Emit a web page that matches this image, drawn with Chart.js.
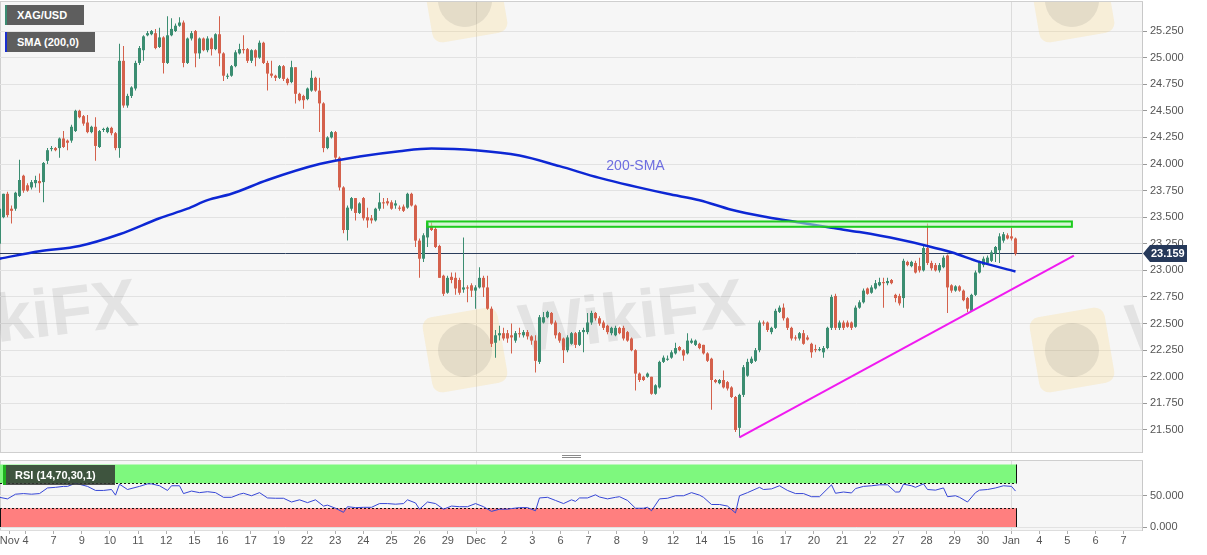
<!DOCTYPE html>
<html>
<head>
<meta charset="utf-8">
<title>XAG/USD</title>
<script src="https://cdn.jsdelivr.net/npm/chart.js@4.4.1/dist/chart.umd.min.js"></script>
<style>
  html, body { margin: 0; padding: 0; background: #fff; }
  #wrap { position: relative; width: 1207px; height: 555px; overflow: hidden; font-family: "Liberation Sans", Arial, sans-serif; }
  canvas { position: absolute; left: 0; }
  #priceChart { top: 0; }
  #rsiChart { top: 456px; }
  .tag { position: absolute; height: 20px; line-height: 20px; color: #fff; font-size: 11px; font-weight: bold; box-sizing: border-box; white-space: nowrap; }
  #tagPair { left: 5px; top: 5px; width: 79px; padding-left: 10px; background: #5e5e5e; border-left: 2px solid #3b8c72; }
  #tagSma { left: 5px; top: 32px; width: 90px; padding-left: 10px; background: #5e5e5e; border-left: 2px solid #1a2fd0; }
  #tagRsi { left: 3px; top: 465px; width: 112px; padding-left: 9px; background: rgba(50,55,50,0.85); border-left: 3px solid #1fb41f; }
  .grip { position: absolute; left: 562px; width: 19px; height: 1px; background: #8a8a8a; }
</style>
</head>
<body>
<div id="wrap">
  <canvas id="priceChart" width="1207" height="456"></canvas>
  <canvas id="rsiChart" width="1207" height="99"></canvas>
  <div class="grip" style="top:455px"></div>
  <div class="grip" style="top:457px"></div>
  <div class="tag" id="tagPair">XAG/USD</div>
  <div class="tag" id="tagSma">SMA (200,0)</div>
  <div class="tag" id="tagRsi">RSI (14,70,30,1)</div>
</div>
<script>
// 4h candles, Nov 4 -> Jan 3
const opens = [
  23.25, 23.50, 23.72, 23.58, 23.58, 23.70, 23.89, 23.80, 23.78, 23.82,
  23.84, 23.83, 24.03, 24.14, 24.15, 24.15, 24.24, 24.22, 24.22, 24.31,
  24.50, 24.45, 24.39, 24.30, 24.35, 24.16, 24.32, 24.30, 24.34, 24.29,
  24.15, 24.97, 24.55, 24.64, 24.71, 24.95, 25.07, 25.21, 25.22, 25.23,
  25.10, 25.19, 24.95, 25.21, 25.25, 25.30, 25.33, 24.95, 25.18, 25.25,
  25.04, 25.18, 25.07, 25.18, 25.08, 25.22, 25.04, 24.82, 24.83, 24.92,
  25.04, 25.08, 25.08, 24.97, 25.07, 25.00, 25.14, 24.95, 24.85, 24.83,
  24.81, 24.92, 24.80, 24.77, 24.91, 24.66, 24.64, 24.61, 24.69, 24.81,
  24.69, 24.57, 24.15, 24.25, 24.30, 24.06, 23.78, 23.38, 23.58, 23.68,
  23.54, 23.68, 23.50, 23.49, 23.47, 23.58, 23.64, 23.65, 23.64, 23.61,
  23.59, 23.60, 23.59, 23.72, 23.61, 23.28, 23.11, 23.31, 23.42, 23.39,
  23.23, 22.95, 22.79, 22.94, 22.93, 22.91, 22.82, 22.84, 22.86, 22.81,
  22.84, 22.93, 22.84, 22.64, 22.32, 22.39, 22.41, 22.41, 22.39, 22.34,
  22.41, 22.39, 22.42, 22.38, 22.34, 22.14, 22.51, 22.56, 22.60, 22.51,
  22.41, 22.36, 22.25, 22.31, 22.41, 22.30, 22.42, 22.42, 22.51, 22.60,
  22.55, 22.51, 22.48, 22.41, 22.39, 22.46, 22.46, 22.42, 22.36, 22.25,
  22.03, 22.00, 22.00, 22.00, 21.84, 21.90, 22.14, 22.16, 22.18, 22.22,
  22.28, 22.25, 22.22, 22.32, 22.30, 22.31, 22.30, 22.22, 22.17, 21.97,
  21.94, 21.97, 21.95, 21.90, 21.81, 21.52, 21.83, 22.01, 22.13, 22.15,
  22.25, 22.51, 22.51, 22.42, 22.46, 22.61, 22.65, 22.55, 22.46, 22.37,
  22.36, 22.41, 22.37, 22.31, 22.26, 22.25, 22.23, 22.27, 22.46, 22.76,
  22.46, 22.51, 22.51, 22.51, 22.47, 22.65, 22.70, 22.83, 22.79, 22.83,
  22.86, 22.89, 22.88, 22.91, 22.77, 22.76, 22.74, 23.08, 23.04, 23.07,
  23.04, 23.00, 23.21, 23.07, 23.05, 23.00, 23.03, 23.14, 22.86, 22.81,
  22.85, 22.81, 22.74, 22.62, 22.77, 22.98, 23.05, 23.07, 23.09, 23.16,
  23.19, 23.28, 23.33, 23.32, 23.30
];
const highs = [
  23.61, 23.72, 23.74, 23.61, 23.74, 24.04, 23.90, 23.82, 23.85, 23.89,
  23.91, 24.02, 24.15, 24.17, 24.16, 24.25, 24.31, 24.23, 24.37, 24.51,
  24.51, 24.46, 24.46, 24.36, 24.44, 24.32, 24.34, 24.35, 24.35, 24.30,
  25.13, 25.11, 24.66, 24.73, 24.97, 25.11, 25.21, 25.25, 25.26, 25.27,
  25.28, 25.20, 25.39, 25.37, 25.32, 25.38, 25.35, 25.19, 25.25, 25.26,
  25.19, 25.19, 25.20, 25.19, 25.23, 25.39, 25.05, 24.85, 24.93, 25.07,
  25.13, 25.21, 25.09, 25.08, 25.08, 25.16, 25.15, 24.97, 24.97, 24.84,
  24.93, 24.93, 24.81, 24.97, 24.91, 24.67, 24.65, 24.72, 24.88, 24.82,
  24.81, 24.58, 24.26, 24.31, 24.31, 24.07, 23.79, 23.61, 23.69, 23.68,
  23.64, 23.69, 23.59, 23.52, 23.59, 23.73, 23.68, 23.68, 23.66, 23.66,
  23.61, 23.62, 23.73, 23.73, 23.62, 23.30, 23.35, 23.46, 23.45, 23.41,
  23.24, 22.96, 22.95, 22.98, 22.98, 22.93, 23.31, 22.86, 22.88, 22.86,
  23.03, 22.95, 22.95, 22.66, 22.44, 22.48, 22.46, 22.44, 22.50, 22.43,
  22.46, 22.44, 22.44, 22.39, 22.39, 22.58, 22.61, 22.62, 22.61, 22.53,
  22.42, 22.37, 22.39, 22.42, 22.42, 22.44, 22.46, 22.60, 22.62, 22.61,
  22.57, 22.53, 22.49, 22.47, 22.48, 22.47, 22.48, 22.43, 22.37, 22.26,
  22.04, 22.01, 22.04, 22.00, 21.93, 22.15, 22.20, 22.20, 22.25, 22.32,
  22.29, 22.26, 22.41, 22.36, 22.35, 22.32, 22.30, 22.23, 22.18, 21.98,
  21.98, 22.06, 21.96, 21.91, 21.82, 21.84, 22.11, 22.17, 22.19, 22.27,
  22.53, 22.53, 22.52, 22.47, 22.64, 22.67, 22.69, 22.56, 22.47, 22.39,
  22.42, 22.44, 22.39, 22.32, 22.30, 22.28, 22.29, 22.47, 22.77, 22.78,
  22.53, 22.53, 22.53, 22.52, 22.67, 22.72, 22.83, 22.84, 22.86, 22.91,
  22.93, 22.93, 22.93, 22.92, 22.78, 22.78, 23.11, 23.09, 23.09, 23.09,
  23.12, 23.23, 23.44, 23.09, 23.07, 23.07, 23.14, 23.15, 22.87, 22.86,
  22.86, 22.82, 22.75, 22.78, 23.00, 23.09, 23.13, 23.14, 23.19, 23.23,
  23.35, 23.36, 23.35, 23.40, 23.31
];
const lows = [
  23.23, 23.49, 23.50, 23.44, 23.56, 23.69, 23.73, 23.74, 23.76, 23.78,
  23.73, 23.64, 24.00, 24.12, 24.12, 24.06, 24.15, 24.13, 24.20, 24.30,
  24.43, 24.36, 24.29, 24.29, 24.03, 24.15, 24.30, 24.29, 24.27, 24.13,
  24.06, 24.53, 24.53, 24.62, 24.69, 24.93, 24.97, 25.20, 25.21, 25.08,
  25.09, 24.85, 24.94, 25.20, 25.24, 25.29, 24.91, 24.94, 25.16, 24.91,
  24.99, 25.06, 25.05, 25.02, 25.07, 24.92, 24.78, 24.80, 24.82, 24.91,
  25.03, 25.04, 24.95, 24.95, 24.92, 24.99, 24.94, 24.69, 24.81, 24.78,
  24.80, 24.78, 24.74, 24.76, 24.57, 24.59, 24.52, 24.60, 24.68, 24.68,
  24.30, 24.11, 24.14, 24.24, 24.03, 23.75, 23.35, 23.28, 23.56, 23.47,
  23.53, 23.47, 23.40, 23.44, 23.46, 23.56, 23.58, 23.61, 23.57, 23.58,
  23.56, 23.55, 23.58, 23.60, 23.22, 22.93, 23.08, 23.22, 23.37, 23.21,
  22.93, 22.76, 22.78, 22.88, 22.77, 22.77, 22.79, 22.70, 22.75, 22.64,
  22.83, 22.75, 22.63, 22.28, 22.18, 22.34, 22.34, 22.32, 22.22, 22.32,
  22.37, 22.37, 22.35, 22.30, 22.04, 22.12, 22.50, 22.55, 22.49, 22.36,
  22.32, 22.13, 22.23, 22.30, 22.27, 22.29, 22.23, 22.40, 22.49, 22.53,
  22.48, 22.44, 22.40, 22.39, 22.38, 22.40, 22.34, 22.33, 22.24, 21.87,
  21.95, 21.96, 21.99, 21.83, 21.83, 21.89, 22.13, 22.15, 22.17, 22.21,
  22.24, 22.15, 22.21, 22.31, 22.29, 22.26, 22.21, 22.14, 21.69, 21.94,
  21.93, 21.89, 21.87, 21.80, 21.48, 21.43, 21.81, 22.00, 22.12, 22.14,
  22.23, 22.48, 22.42, 22.40, 22.45, 22.60, 22.53, 22.44, 22.34, 22.34,
  22.34, 22.30, 22.34, 22.18, 22.23, 22.24, 22.18, 22.26, 22.44, 22.44,
  22.44, 22.44, 22.46, 22.44, 22.46, 22.64, 22.69, 22.77, 22.78, 22.82,
  22.85, 22.65, 22.86, 22.87, 22.70, 22.67, 22.65, 23.04, 23.03, 22.97,
  22.98, 22.99, 23.05, 23.00, 22.99, 22.98, 23.02, 22.60, 22.79, 22.80,
  22.80, 22.71, 22.61, 22.61, 22.76, 22.97, 23.03, 23.06, 23.08, 23.08,
  23.07, 23.26, 23.29, 23.28, 23.14
];
const closes = [
  23.58, 23.72, 23.52, 23.56, 23.73, 23.85, 23.75, 23.75, 23.83, 23.85,
  23.82, 24.01, 24.13, 24.15, 24.13, 24.24, 24.16, 24.20, 24.35, 24.50,
  24.44, 24.38, 24.30, 24.35, 24.17, 24.31, 24.33, 24.34, 24.29, 24.15,
  24.97, 24.55, 24.64, 24.72, 24.95, 25.09, 25.20, 25.23, 25.25, 25.09,
  25.19, 24.95, 25.21, 25.27, 25.30, 25.33, 24.95, 25.18, 25.23, 25.04,
  25.18, 25.07, 25.18, 25.08, 25.22, 25.04, 24.83, 24.83, 24.92, 25.05,
  25.08, 25.07, 24.97, 25.07, 25.00, 25.14, 24.95, 24.85, 24.83, 24.81,
  24.92, 24.80, 24.76, 24.91, 24.66, 24.60, 24.60, 24.71, 24.81, 24.69,
  24.57, 24.15, 24.25, 24.30, 24.06, 23.78, 23.38, 23.59, 23.68, 23.54,
  23.63, 23.49, 23.47, 23.47, 23.58, 23.64, 23.63, 23.63, 23.58, 23.63,
  23.58, 23.56, 23.72, 23.61, 23.28, 23.11, 23.33, 23.45, 23.38, 23.22,
  22.93, 22.78, 22.93, 22.91, 22.83, 22.79, 22.84, 22.83, 22.81, 22.84,
  22.93, 22.84, 22.64, 22.31, 22.39, 22.41, 22.36, 22.36, 22.37, 22.41,
  22.40, 22.42, 22.38, 22.34, 22.15, 22.56, 22.56, 22.61, 22.50, 22.39,
  22.34, 22.25, 22.37, 22.41, 22.30, 22.42, 22.44, 22.51, 22.60, 22.55,
  22.50, 22.46, 22.42, 22.46, 22.46, 22.41, 22.36, 22.34, 22.25, 22.03,
  21.97, 21.97, 22.03, 21.84, 21.92, 22.14, 22.18, 22.17, 22.23, 22.27,
  22.25, 22.20, 22.34, 22.34, 22.34, 22.27, 22.22, 22.15, 21.97, 21.95,
  21.97, 21.90, 21.89, 21.81, 21.50, 21.83, 22.09, 22.14, 22.17, 22.25,
  22.51, 22.50, 22.44, 22.46, 22.62, 22.65, 22.55, 22.46, 22.36, 22.36,
  22.41, 22.31, 22.35, 22.23, 22.25, 22.26, 22.27, 22.46, 22.75, 22.46,
  22.51, 22.46, 22.47, 22.46, 22.65, 22.70, 22.81, 22.78, 22.84, 22.88,
  22.89, 22.88, 22.90, 22.88, 22.74, 22.69, 23.09, 23.05, 23.08, 22.98,
  23.00, 23.21, 23.07, 23.02, 23.00, 23.05, 23.12, 22.84, 22.81, 22.85,
  22.81, 22.72, 22.64, 22.77, 22.98, 23.08, 23.11, 23.12, 23.17, 23.22,
  23.32, 23.34, 23.30, 23.30, 23.159
];
const LAST_PRICE = 23.159;

// 200-SMA, read at a few candles
const smaIdx = [0, 10, 20, 30, 40, 47, 52, 58, 67, 80, 90, 100, 108, 119, 130, 140, 150, 167, 175, 183, 192, 200, 208, 215, 225, 232, 238, 245, 254];
const smaVal = [23.11, 23.18, 23.23, 23.34, 23.49, 23.58, 23.66, 23.72, 23.85, 24.00, 24.07, 24.12, 24.145, 24.13, 24.08, 23.98, 23.87, 23.72, 23.66, 23.57, 23.50, 23.45, 23.40, 23.36, 23.29, 23.23, 23.17, 23.08, 22.99];

// RSI(14)
const rsiIdx = [
  0, 2, 4, 6, 8, 10, 12, 14, 16, 17,
  19, 22, 24, 26, 28, 29, 30, 32, 35, 37,
  38, 40, 42, 43, 45, 46, 48, 50, 52, 54,
  56, 58, 60, 61, 63, 65, 67, 69, 71, 73,
  75, 77, 79, 81, 82, 84, 86, 87, 89, 91,
  93, 95, 97, 99, 101, 102, 104, 105, 107, 109,
  111, 113, 115, 117, 119, 121, 123, 125, 127, 128,
  130, 132, 134, 135, 137, 139, 141, 143, 144, 145,
  147, 149, 150, 152, 154, 155, 157, 159, 161, 162,
  163, 165, 167, 169, 171, 173, 175, 176, 178, 180,
  182, 184, 185, 187, 190, 191, 193, 195, 197, 199,
  201, 203, 205, 208, 209, 211, 213, 214, 216, 218,
  220, 222, 224, 225, 226, 228, 229, 231, 232, 234,
  236, 237, 239, 240, 242, 244, 245, 247, 249, 251,
  253, 254
];
const rsiVal = [
  47.5, 45, 52.5, 53.5, 52.5, 53.5, 62.5, 63.5, 65, 65,
  70, 65, 58.5, 58.5, 60, 51, 68.5, 60, 65, 69,
  69, 66, 58.5, 66, 66, 53.5, 57.5, 55, 56.5, 55,
  47.5, 47.5, 52.5, 54, 50, 55, 46.5, 46, 46, 40,
  43.5, 39, 43.5, 33.5, 35, 30, 23.5, 32.5, 31, 31.5,
  31.5, 37.5, 37.5, 36.5, 37.5, 43.5, 38.5, 28.5, 40, 37.5,
  28.5, 33.5, 32.5, 32.5, 37.5, 32.5, 25, 28.5, 28.5, 29.5,
  31, 31, 26, 46.5, 47.5, 42.5, 37.5, 43.5, 41, 46.5,
  46.5, 51.5, 48, 45, 47.5, 48.5, 42.5, 30, 30, 31.5,
  26, 45, 46, 50, 50, 55, 51, 47.5, 36, 36,
  33.5, 22.5, 50, 55, 63.5, 60, 61, 66, 58.5, 53.5,
  53.5, 48.5, 48.5, 67.5, 54, 56, 54.5, 61.5, 65, 66,
  67.5, 67.5, 56, 56, 68.5, 66, 63.5, 69, 60, 59,
  62.5, 48.5, 50, 47.5, 40, 55, 59, 60, 62.5, 66,
  65, 57.5
];
const RSI_LEVELS = [30, 70];

// hand-drawn studies
const trendIdx = [185, 268.6];
const trendVal = [21.43, 23.14];
const zoneIdx = [106.9, 268.1];
const zoneVal = [23.41, 23.46];
const smaLabel = { idx: 159, val: 23.98, text: '200-SMA' };

const X_LABELS = ['Nov', '4', '7', '9', '10', '11', '12', '15', '16', '17', '19', '22', '23', '24', '25', '26', '29',
  'Dec', '2', '3', '6', '7', '8', '9', '12', '14', '15', '16', '17', '20', '21', '22', '27', '28', '29', '30',
  'Jan', '4', '5', '6', '7'];
const PRICE_TICKS = [21.5, 21.75, 22, 22.25, 22.5, 22.75, 23, 23.25, 23.5, 23.75, 24, 24.25, 24.5, 24.75, 25, 25.25];
const RSI_TICKS = [0, 50];

const GREEN = '#3b8d71';
const RED = '#d4614c';
const FONT_FAMILY = '"Liberation Sans", Arial, sans-serif';
Chart.defaults.font.family = FONT_FAMILY;

const X_MIN = 0.125;
const X_MAX = 285.625;
const DEC_POS = 119.125;
const TICK_STEP = 7.04;

function tickPos(k) {
  const v = DEC_POS + (k - X_LABELS.indexOf('Dec')) * TICK_STEP;
  return Math.max(v, X_MIN + 2.4); // first label is pushed inside, as in the original
}
function setXTicks(scale) {
  scale.ticks = X_LABELS.map((_, k) => ({ value: tickPos(k) }));
}
const monthGrid = (ctx) => (['Dec', 'Jan'].includes(X_LABELS[ctx.index]) ? '#dcdcdc' : 'rgba(0,0,0,0)');

const plotBg = {
  id: 'plotBg',
  beforeDraw(chart) {
    const { ctx, chartArea: a } = chart;
    ctx.save();
    ctx.fillStyle = '#f6f6f6';
    ctx.fillRect(a.left, a.top, a.right - a.left, a.bottom - a.top);
    ctx.strokeStyle = '#cfcfcf';
    ctx.lineWidth = 1;
    ctx.strokeRect(a.left + 0.5, a.top - 0.5, a.right - a.left, a.bottom - a.top + 1);
    ctx.restore();
  },
};

function drawWatermark(ctx, cx, cy) {
  ctx.save();
  ctx.translate(cx, cy);
  ctx.rotate(-0.17);
  ctx.fillStyle = 'rgba(250,210,110,0.22)';
  ctx.beginPath();
  ctx.roundRect(-38, -38, 76, 76, 10);
  ctx.fill();
  ctx.fillStyle = 'rgba(90,90,90,0.12)';
  ctx.beginPath();
  ctx.arc(0, 0, 27, 0, Math.PI * 2);
  ctx.fill();
  ctx.restore();

  ctx.save();
  ctx.translate(cx + 167, cy - 30);
  ctx.rotate(-0.12);
  ctx.fillStyle = 'rgba(90,90,90,0.12)';
  ctx.font = 'bold 68px ' + FONT_FAMILY;
  ctx.textAlign = 'center';
  ctx.textBaseline = 'middle';
  ctx.fillText('WikiFX', 0, 0);
  ctx.restore();
}

const priceOverlay = {
  id: 'priceOverlay',
  beforeDatasetsDraw(chart) {
    const { ctx, chartArea: a, scales: { y } } = chart;
    ctx.save();
    ctx.beginPath();
    ctx.rect(a.left, a.top, a.right - a.left, a.bottom - a.top);
    ctx.clip();
    [[-142, 350], [465, 350], [1072, 350], [465, 0], [1072, 0]].forEach(([cx, cy]) => drawWatermark(ctx, cx, cy));

    const py = Math.floor(y.getPixelForValue(LAST_PRICE)) + 0.5;
    ctx.strokeStyle = '#2a3d5c';
    ctx.lineWidth = 1;
    ctx.beginPath();
    ctx.moveTo(a.left, py);
    ctx.lineTo(a.right, py);
    ctx.stroke();
    ctx.restore();
  },
  afterDatasetsDraw(chart) {
    const { ctx, scales: { x, y } } = chart;
    const zx0 = x.getPixelForValue(zoneIdx[0]);
    const zx1 = x.getPixelForValue(zoneIdx[1]);
    const zy0 = y.getPixelForValue(zoneVal[1]);
    const zy1 = y.getPixelForValue(zoneVal[0]);
    ctx.save();
    ctx.fillStyle = 'rgba(190,245,190,0.55)';
    ctx.fillRect(zx0, zy0, zx1 - zx0, zy1 - zy0);
    ctx.strokeStyle = '#1ecb1e';
    ctx.lineWidth = 2;
    ctx.strokeRect(zx0, zy0, zx1 - zx0, zy1 - zy0);

    ctx.fillStyle = '#6d6de0';
    ctx.font = '14px ' + FONT_FAMILY;
    ctx.textAlign = 'center';
    ctx.textBaseline = 'middle';
    ctx.fillText(smaLabel.text, x.getPixelForValue(smaLabel.idx), y.getPixelForValue(smaLabel.val));
    ctx.restore();
  },
  afterDraw(chart) {
    const { ctx, chartArea: a, scales: { y } } = chart;
    const py = Math.floor(y.getPixelForValue(LAST_PRICE)) + 0.5;
    const x0 = a.right + 1;
    ctx.save();
    ctx.fillStyle = '#26395a';
    ctx.beginPath();
    ctx.moveTo(x0, py);
    ctx.lineTo(x0 + 7, py - 8.5);
    ctx.lineTo(x0 + 44, py - 8.5);
    ctx.lineTo(x0 + 44, py + 8.5);
    ctx.lineTo(x0 + 7, py + 8.5);
    ctx.closePath();
    ctx.fill();
    ctx.fillStyle = '#fff';
    ctx.font = 'bold 11px ' + FONT_FAMILY;
    ctx.textBaseline = 'middle';
    ctx.fillText(LAST_PRICE.toFixed(3), x0 + 8, py + 0.5);
    ctx.restore();
  },
};

const rsiBands = {
  id: 'rsiBands',
  beforeDatasetsDraw(chart) {
    const { ctx, chartArea: a, scales: { x, y } } = chart;
    const x0 = a.left;
    const x1 = Math.round(x.getPixelForValue(opens.length - 1)) + 0.5;
    const top = y.getPixelForValue(100);
    const hi = y.getPixelForValue(RSI_LEVELS[1]);
    const lo = y.getPixelForValue(RSI_LEVELS[0]);
    const bot = y.getPixelForValue(0);
    ctx.save();
    ctx.fillStyle = '#7ef87e';
    ctx.fillRect(x0, top, x1 - x0, hi - top);
    ctx.fillStyle = '#ff7f7f';
    ctx.fillRect(x0, lo, x1 - x0, bot - lo);
    ctx.strokeStyle = '#111';
    ctx.lineWidth = 1;
    ctx.setLineDash([2, 2]);
    [hi, lo].forEach((v) => {
      const yy = Math.round(v) + 0.5;
      ctx.beginPath();
      ctx.moveTo(x0, yy);
      ctx.lineTo(x1, yy);
      ctx.stroke();
    });
    ctx.setLineDash([]);
    ctx.beginPath();
    ctx.moveTo(x1, top);
    ctx.lineTo(x1, hi);
    ctx.moveTo(x1, lo);
    ctx.lineTo(x1, bot);
    ctx.moveTo(x0 + 0.5, lo);
    ctx.lineTo(x0 + 0.5, bot);
    ctx.stroke();
    ctx.restore();
  },
};

const idx = opens.map((_, i) => i);
const candleColors = idx.map((i) => (closes[i] >= opens[i] ? GREEN : RED));
const axisTicks = { color: '#555', font: { size: 11 } };

new Chart(document.getElementById('priceChart'), {
  type: 'bar',
  data: {
    datasets: [
      {
        type: 'line',
        data: smaIdx.map((v, k) => ({ x: v, y: smaVal[k] })),
        borderColor: '#0d27d4',
        borderWidth: 2.5,
        pointRadius: 0,
        cubicInterpolationMode: 'monotone',
        order: 1,
      },
      {
        type: 'line',
        data: trendIdx.map((v, k) => ({ x: v, y: trendVal[k] })),
        borderColor: '#f01af0',
        borderWidth: 2,
        pointRadius: 0,
        order: 0,
      },
      {
        data: idx.map((i) => ({ x: i, y: [opens[i], closes[i]] })),
        backgroundColor: candleColors,
        barThickness: 3,
        minBarLength: 1,
        inflateAmount: 0,
        grouped: false,
        order: 2,
      },
      {
        data: idx.map((i) => ({ x: i, y: [lows[i], highs[i]] })),
        backgroundColor: candleColors,
        barThickness: 1,
        minBarLength: 1,
        inflateAmount: 0,
        grouped: false,
        order: 3,
      },
    ],
  },
  options: {
    responsive: false,
    animation: false,
    events: [],
    devicePixelRatio: 1,
    layout: { padding: { top: 2, bottom: 4, left: 0, right: 0 } },
    plugins: { legend: { display: false }, tooltip: { enabled: false } },
    scales: {
      x: {
        type: 'linear',
        min: X_MIN,
        max: X_MAX,
        offset: false,
        afterBuildTicks: setXTicks,
        afterFit: (s) => { s.height = 0; s.paddingLeft = 0; s.paddingRight = 0; },
        ticks: { display: false },
        grid: { color: monthGrid, drawTicks: false, offset: false },
        border: { display: false },
      },
      y: {
        position: 'right',
        min: 21.293,
        max: 25.523,
        afterBuildTicks: (s) => { s.ticks = PRICE_TICKS.map((v) => ({ value: v })); },
        afterFit: (s) => { s.width = 65; s.paddingTop = 0; s.paddingBottom = 0; },
        ticks: { ...axisTicks, padding: 3, callback: (v) => v.toFixed(3) },
        grid: { color: '#e2e2e2', tickLength: 5, tickColor: '#999' },
        border: { color: '#c8c8c8' },
      },
    },
  },
  plugins: [plotBg, priceOverlay],
});

new Chart(document.getElementById('rsiChart'), {
  type: 'line',
  data: {
    datasets: [{
      data: rsiIdx.map((v, k) => ({ x: v, y: rsiVal[k] })),
      borderColor: '#3646d6',
      borderWidth: 1,
      pointRadius: 0,
      tension: 0,
    }],
  },
  options: {
    responsive: false,
    animation: false,
    events: [],
    devicePixelRatio: 1,
    layout: { padding: { top: 5, bottom: 0, left: 0, right: 0 } },
    plugins: { legend: { display: false }, tooltip: { enabled: false } },
    scales: {
      x: {
        type: 'linear',
        min: X_MIN,
        max: X_MAX,
        offset: false,
        afterBuildTicks: setXTicks,
        afterFit: (s) => { s.height = 25; s.paddingLeft = 0; s.paddingRight = 0; },
        ticks: { ...axisTicks, padding: 0, maxRotation: 0, autoSkip: false, callback: (v, k) => X_LABELS[k] },
        grid: { color: monthGrid, tickLength: 4, tickColor: '#b0b0b0' },
        border: { color: '#dddddd' },
      },
      y: {
        position: 'right',
        min: -4.8,
        max: 105.6,
        afterBuildTicks: (s) => { s.ticks = RSI_TICKS.map((v) => ({ value: v })); },
        afterFit: (s) => { s.width = 65; s.paddingTop = 0; s.paddingBottom = 0; },
        ticks: { ...axisTicks, padding: 3, callback: (v) => v.toFixed(3) },
        grid: { color: '#e2e2e2', tickLength: 5, tickColor: '#999' },
        border: { color: '#c8c8c8' },
      },
    },
  },
  plugins: [plotBg, rsiBands],
});
</script>
</body>
</html>
